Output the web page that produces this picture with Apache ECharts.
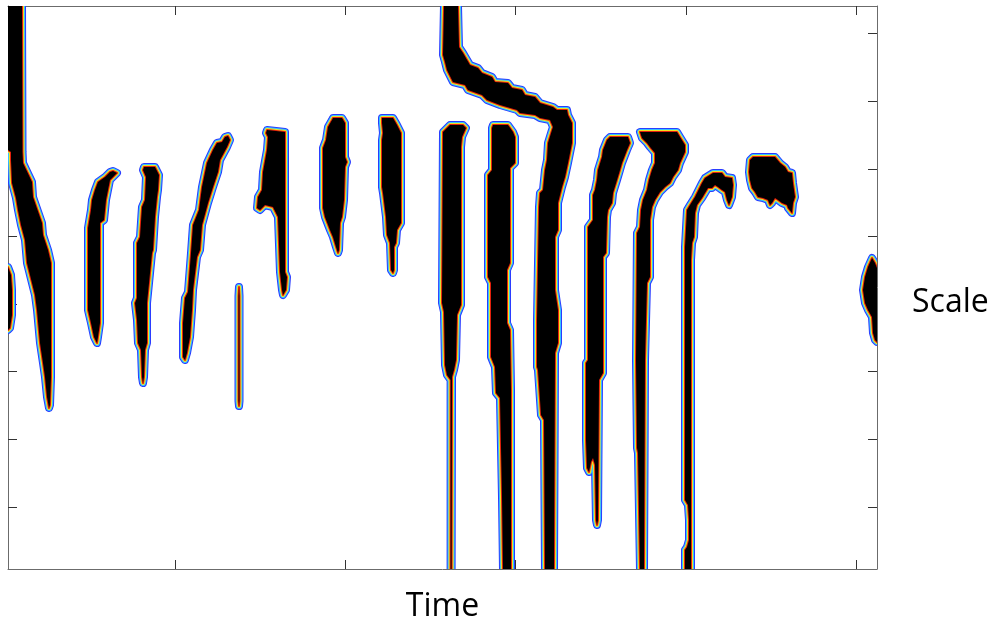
<!DOCTYPE html>
<html>
<head>
<meta charset="utf-8">
<script src="https://cdn.jsdelivr.net/npm/echarts@6/dist/echarts.min.js"></script>
<style>
  html, body { margin: 0; padding: 0; background: #fff; }
  #chart { width: 995px; height: 622px; }
</style>
</head>
<body>
<div id="chart"></div>
<script>
// axis extents (time samples / scale rows) and tick positions
var timeRange = [0, 869];
var scaleRange = [0, 563];
var timeTicks = [167, 337.3, 507.7, 678, 848.3];
var scaleTicks = [27.7, 95, 163, 230.7, 298.3, 365.7, 433.7, 501];

// ridge outlines, each point is [time, scale]
var ridgeLeft = [[0,0],[14,0],[14.5,146],[15,157],[24,176],[25,191],[34,217],[35,229],[40,244],[43,257],[43,371],[42,399],[41,402],[39,391],[37,371],[35,357],[32,337],[29,304],[27,289],[24,277],[19,257],[17,234],[13,219],[10,204],[8,192],[4,177],[3,154],[3,146],[0,144]];
var ridgeEdge = [[0,261],[3,269],[4,284],[4,309],[2,322],[0,324]];
var ridge2 = [[105,165],[109,167],[107,169],[102,174],[100,184],[98,194],[96,214],[92,217],[92,317],[90,331],[89,337],[86,331],[83,317],[80,304],[80,222],[83,204],[84,194],[87,184],[90,176],[97,171],[102,166]];
var ridge3 = [[136,161],[147,161],[151,169],[150,184],[149,191],[147,211],[145,244],[144,247],[141,277],[139,297],[139,337],[137,344],[136,371],[135,377],[134,371],[133,344],[130,337],[129,314],[127,297],[129,292],[129,237],[132,231],[134,201],[137,194],[138,171],[135,164]];
var ridge4 = [[217,131],[220,130],[222,134],[219,141],[212,154],[210,166],[205,181],[200,197],[194,219],[192,244],[189,251],[185,284],[184,304],[182,331],[179,347],[177,354],[175,351],[175,317],[177,292],[180,286],[183,247],[185,219],[191,204],[194,181],[199,157],[205,144],[209,137],[214,136]];
var ridge5 = [[231,281],[231.5,290],[231.5,395],[231,400],[230.5,395],[230.5,290]];
var ridge6 = [[258,127],[259,124],[277,126],[277,127],[277,266],[279,271],[278,284],[275,289],[274,284],[272,266],[270,211],[265,201],[257,199],[252,204],[249,202],[250,191],[254,184],[255,166],[259,144],[260,131]];
var ridge7 = [[325,112],[334,112],[337,117],[337,151],[339,156],[337,161],[336,194],[334,211],[332,217],[331,244],[330,247],[328,241],[325,231],[322,224],[317,211],[315,202],[315,142],[318,134],[320,121],[324,114]];
var ridge8 = [[374,112],[385,112],[389,119],[393,127],[393,217],[389,224],[388,237],[386,241],[386,264],[385,267],[383,264],[382,237],[379,229],[378,211],[375,187],[374,181],[374,134],[375,127],[374,117]];
var ridgeCurve = [[436,0],[450,0],[451,41],[455,47],[462,59],[470,62],[474,67],[484,71],[487,76],[500,77],[504,82],[514,84],[517,89],[527,91],[532,97],[545,101],[549,104],[559,104],[560,109],[564,117],[564,137],[560,157],[557,171],[554,181],[550,197],[550,224],[547,231],[547,284],[550,304],[550,337],[547,347],[546,563],
  [537,563],[536,414],[533,409],[532,394],[530,364],[529,361],[529,314],[531,201],[532,187],[535,184],[537,164],[539,154],[540,137],[544,124],[545,121],[542,114],[532,112],[527,109],[512,107],[509,104],[492,99],[479,94],[474,89],[460,84],[457,79],[445,76],[439,64],[437,56],[435,49]];
var ridge10 = [[442,119],[455,119],[458,122],[454,131],[453,141],[453,299],[449,309],[448,354],[446,364],[444,371],[443.6,563],[442.6,563],[442.6,374],[439,369],[437,359],[436,306],[434,297],[435,126],[439,122]];
var ridge11 = [[485,119],[500,119],[505,126],[507,131],[507,157],[502,162],[502,257],[499,264],[499,317],[502,324],[503,384],[503,563],[495,563],[494,491],[492,392],[488,387],[487,361],[483,351],[483,277],[480,271],[480,169],[484,164],[484,122]];
var ridge12 = [[602,131],[620,131],[622,137],[619,144],[614,157],[612,164],[609,174],[605,187],[604,197],[600,204],[599,211],[598,247],[595,251],[595,367],[591,374],[590,514],[589,519],[588,514],[587,459],[585,452],[583,456],[581,466],[579,462],[578,434],[578,357],[580,354],[580,221],[585,214],[585,189],[587,184],[589,174],[590,164],[594,151],[595,144],[599,134]];
var ridge13 = [[632,126],[669,126],[672,131],[677,139],[677,146],[672,157],[670,164],[665,171],[662,177],[657,181],[652,186],[647,194],[644,201],[642,214],[642,271],[639,277],[637,354],[636,563],[632,563],[630,447],[629,442],[628,354],[629,227],[632,221],[633,204],[635,194],[639,184],[641,174],[644,164],[647,157],[647,147],[642,141],[639,137],[634,132]];
var ridge14 = [[677,563],[677,544],[679,541],[681,534],[681,514],[680,499],[677,494],[677,241],[679,204],[682,199],[687,191],[694,177],[697,172],[705,167],[714,167],[717,171],[724,172],[725,179],[724,191],[721,199],[719,194],[717,186],[714,184],[710,181],[707,179],[704,182],[700,182],[697,187],[694,192],[689,199],[687,207],[686,231],[684,237],[683,254],[683,563]];
var blob15 = [[741,166],[742,154],[745,151],[767,151],[772,157],[777,161],[780,166],[784,167],[785,177],[787,191],[785,197],[784,207],[780,202],[779,199],[774,197],[770,194],[767,192],[764,197],[762,199],[760,194],[755,192],[750,191],[747,186],[744,182],[742,174]];
var blobRight = [[864,252],[867,257],[869,262],[869,336],[867,334],[865,327],[864,311],[860,304],[857,297],[855,284],[857,271],[860,261]];

var shapes = [ridgeLeft, ridgeEdge, ridge2, ridge3, ridge4, ridge5, ridge6, ridge7, ridge8,
  ridgeCurve, ridge10, ridge11, ridge12, ridge13, ridge14, blob15, blobRight];

// colour rim from outside in (jet-like edge)
var rim = [
  {c: '#2a3cff', w: 8},
  {c: '#35c4ff', w: 6},
  {c: '#f4e020', w: 4},
  {c: '#e3200c', w: 2}
];

var myChart = echarts.init(document.getElementById('chart'));

function renderRidge(params, api) {
  var pts = shapes[api.value(0)].map(function (p) { return api.coord(p); });
  var children = rim.map(function (r) {
    return {
      type: 'polygon',
      shape: { points: pts },
      style: { fill: null, stroke: r.c, lineWidth: r.w, lineJoin: 'round' }
    };
  });
  children.push({
    type: 'polygon',
    shape: { points: pts },
    style: { fill: '#000', stroke: null }
  });
  return { type: 'group', children: children };
}

var axisCommon = {
  type: 'value',
  axisLine: { show: true, onZero: false, lineStyle: { color: '#6b6b6b', width: 1 } },
  axisLabel: { show: false },
  splitLine: { show: false }
};

function tickCfg(vals) {
  return { show: true, inside: true, length: 9, customValues: vals,
    lineStyle: { color: '#333', width: 1 } };
}

var option = {
  animation: false,
  backgroundColor: '#fff',
  grid: { left: 8, top: 6, width: 869, height: 563, show: false,
    containLabel: false, outerBoundsMode: 'none' },
  xAxis: [
    Object.assign({}, axisCommon, {
      position: 'bottom', min: timeRange[0], max: timeRange[1],
      axisTick: tickCfg(timeTicks),
      name: 'Time', nameLocation: 'middle', nameGap: 22,
      nameTextStyle: { fontFamily: 'Open Sans', fontSize: 32, color: '#000' }
    }),
    Object.assign({}, axisCommon, {
      position: 'top', min: timeRange[0], max: timeRange[1],
      axisTick: tickCfg(timeTicks)
    })
  ],
  yAxis: [
    Object.assign({}, axisCommon, {
      position: 'left', inverse: true, min: scaleRange[0], max: scaleRange[1],
      axisTick: tickCfg(scaleTicks)
    }),
    Object.assign({}, axisCommon, {
      position: 'right', inverse: true, min: scaleRange[0], max: scaleRange[1],
      axisTick: tickCfg(scaleTicks)
    })
  ],
  graphic: [{
    type: 'text', left: 912, top: 287,
    style: { text: 'Scale', font: '32px "Open Sans"', fill: '#000' }
  }],
  series: [{
    type: 'custom',
    xAxisIndex: 0,
    yAxisIndex: 0,
    clip: true,
    renderItem: renderRidge,
    encode: { x: 1, y: 2 },
    data: shapes.map(function (s, i) { return [i, s[0][0], s[0][1]]; })
  }]
};

myChart.setOption(option);
</script>
</body>
</html>
